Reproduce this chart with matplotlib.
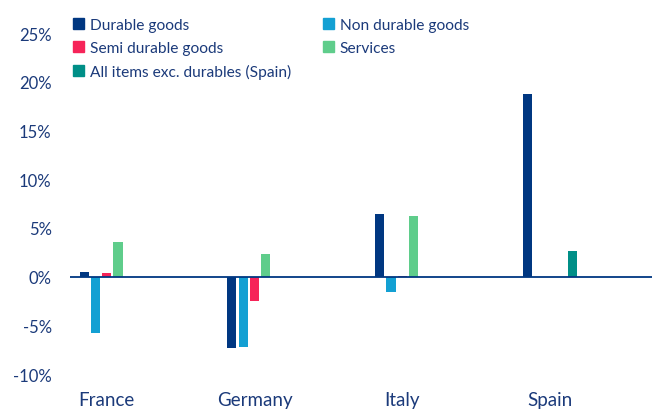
import numpy as np
import matplotlib
matplotlib.use("Agg")
import matplotlib.pyplot as plt
from matplotlib.patches import Patch

countries = ["France", "Germany", "Italy", "Spain"]
series_names = ["Durable goods", "Non durable goods", "Semi durable goods",
                "Services", "All items exc. durables (Spain)"]
durable = [0.5, -7.3, 6.4, 18.75]
non_durable = [-5.8, -7.2, -1.6, np.nan]
semi_durable = [0.4, -2.5, 0.1, np.nan]
services = [3.55, 2.35, 6.2, np.nan]
all_exc_durables = [np.nan, np.nan, np.nan, 2.65]
yticks = [-10, -5, 0, 5, 10, 15, 20, 25]

colors = ["#003781", "#13a0d3", "#f62459", "#5fcd8b", "#008f87"]
text_col = "#1b3a7a"

plt.rcParams["font.family"] = ["Lato", "DejaVu Sans"]

fig = plt.figure(figsize=(6.52, 4.10), dpi=100)
ax = fig.add_axes([0.107, 0.085, 0.893, 0.832])

x = np.arange(len(countries))
step = 0.0765
width = 0.062
all_series = [durable, non_durable, semi_durable, services, all_exc_durables]
for i, (vals, col) in enumerate(zip(all_series, colors)):
    ax.bar(x + (i - 2) * step, vals, width, color=col, zorder=2)

ax.axhline(0, color="#003781", lw=1.3, zorder=3)
ax.set_xlim(-0.25, 3.69)
ax.set_ylim(-10, 25)
ax.set_yticks(yticks)
ax.set_yticklabels([f"{t}%" for t in yticks])
ax.set_xticks(x)
ax.set_xticklabels(countries)
ax.tick_params(axis="both", length=0, labelsize=12, colors=text_col)
ax.tick_params(axis="x", pad=12, labelsize=13.5)
ax.tick_params(axis="y", pad=13)
for s in ax.spines.values():
    s.set_visible(False)

handles = [Patch(color=c, label=n) for c, n in zip(colors, series_names)]
order = [0, 2, 4, 1, 3]
fig.legend([handles[i] for i in order], [series_names[i] for i in order],
           ncol=2, loc="upper left", bbox_to_anchor=(0.103, 0.97),
           frameon=False, fontsize=11.2, labelcolor=text_col,
           handlelength=0.7, handleheight=0.7, handletextpad=0.4,
           columnspacing=2.0, labelspacing=0.58, borderaxespad=0)

fig.savefig("out.png", dpi=100, facecolor="white")
